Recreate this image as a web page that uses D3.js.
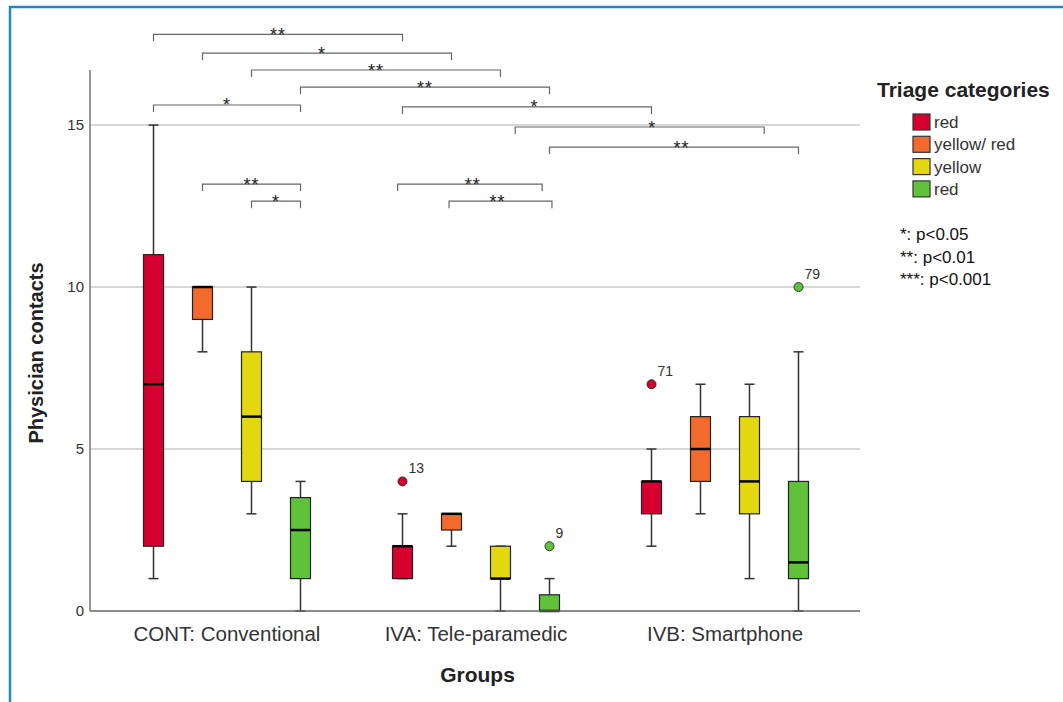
<!DOCTYPE html>
<html>
<head>
<meta charset="utf-8">
<script src="https://cdn.jsdelivr.net/npm/d3@7"></script>
<style>
  body { margin: 0; background: #fff; }
  text { font-family: "Liberation Sans", Arial, sans-serif; }
</style>
</head>
<body>
<div class="chart"></div>
<script>
var svgWidth = 1063;
var svgHeight = 702;

// groups on the x axis and triage categories inside each group
var groups = ["CONT: Conventional", "IVA: Tele-paramedic", "IVB: Smartphone"];
var triage = ["red", "yellow/ red", "yellow", "red"];
var triageColors = ["#d6002f", "#f26a2c", "#e3d80f", "#60c23b"];

// box plot statistics, one row per group, one column per triage category
var whiskerLow = [[1, 8, 3, 0], [1, 2, 0, 0], [2, 3, 1, 0]];
var quart1 = [[2, 9, 4, 1], [1, 2.5, 1, 0], [3, 4, 3, 1]];
var medians = [[7, 10, 6, 2.5], [2, 3, 1, 0], [4, 5, 4, 1.5]];
var quart3 = [[11, 10, 8, 3.5], [2, 3, 2, 0.5], [4, 6, 6, 4]];
var whiskerHigh = [[15, 10, 10, 4], [3, 3, 2, 1], [5, 7, 7, 8]];

// outliers: group index, category index, value, case id
var outlierGroup = [1, 1, 2, 2];
var outlierCat = [0, 3, 0, 3];
var outlierValue = [4, 2, 7, 10];
var outlierId = ["13", "9", "71", "79"];

var yTicks = [0, 5, 10, 15];

// significance brackets: [group1, cat1, group2, cat2, height (y units), stars, label position]
var brackets = [
  [0, 0, 1, 0, 17.8, "**", 0.5],
  [0, 1, 1, 1, 17.22, "*", 0.48],
  [0, 2, 1, 2, 16.7, "**", 0.5],
  [0, 3, 1, 3, 16.17, "**", 0.5],
  [0, 0, 0, 3, 15.62, "*", 0.5],
  [1, 0, 2, 0, 15.56, "*", 0.53],
  [1, 2.3, 2, 2.3, 14.94, "*", 0.55],
  [1, 3, 2, 3, 14.32, "**", 0.53],
  [0, 1, 0, 3, 13.18, "**", 0.5],
  [0, 2, 0, 3, 12.65, "*", 0.5],
  [1, -0.1, 1, 2.85, 13.18, "**", 0.52],
  [1, 0.95, 1, 3.05, 12.65, "**", 0.47]
];

var pNotes = ["*: p<0.05", "**: p<0.01", "***: p<0.001"];

var plotLeft = 90, plotRight = 860, plotTop = 70, plotBottom = 611;

var svg = d3.select(".chart")
  .append("svg")
  .attr("width", svgWidth)
  .attr("height", svgHeight);

// blue frame round the figure
svg.append("path")
  .attr("d", "M10,702 L10,7 L1063,7")
  .attr("fill", "none")
  .attr("stroke", "#1f88c9")
  .attr("stroke-width", 2.5);

var y = d3.scaleLinear()
  .domain([0, 16.7])
  .range([plotBottom, plotTop]);

var xGroup = d3.scaleBand()
  .domain(groups)
  .range([102.5, 849.5]);

var xCat = d3.scaleLinear()
  .domain([0, 3])
  .range([-73.5, 73.5]);

function xPos(g, c) {
  return xGroup(groups[g]) + xGroup.bandwidth() / 2 + xCat(c);
}

// grid lines
svg.append("g")
  .selectAll("line")
  .data(yTicks.filter(d => d > 0))
  .enter()
  .append("line")
  .attr("x1", plotLeft)
  .attr("x2", plotRight)
  .attr("y1", d => y(d))
  .attr("y2", d => y(d))
  .attr("stroke", "#cacaca")
  .attr("stroke-width", 1.5);

// y axis
var leftAxis = d3.axisLeft(y).tickValues(yTicks).tickSize(0).tickPadding(6);
var yAxis = svg.append("g")
  .attr("transform", `translate(${plotLeft}, 0)`)
  .call(leftAxis);
yAxis.select(".domain").remove();
yAxis.selectAll("text")
  .attr("font-family", "Liberation Sans, Arial, sans-serif")
  .attr("font-size", 15)
  .attr("fill", "#333");

svg.append("line")
  .attr("x1", plotLeft).attr("x2", plotLeft)
  .attr("y1", plotTop).attr("y2", plotBottom)
  .attr("stroke", "#777")
  .attr("stroke-width", 1.5);

// x axis
var bottomAxis = d3.axisBottom(xGroup).tickSize(0).tickPadding(15);
var xAxis = svg.append("g")
  .attr("transform", `translate(0, ${plotBottom})`)
  .call(bottomAxis);
xAxis.select(".domain").remove();
xAxis.selectAll("text")
  .attr("font-family", "Liberation Sans, Arial, sans-serif")
  .attr("font-size", 20.5)
  .attr("fill", "#333");

// box plots
var boxes = [];
groups.forEach(function(g, gi) {
  triage.forEach(function(t, ci) {
    boxes.push({
      g: gi, c: ci,
      lo: whiskerLow[gi][ci], q1: quart1[gi][ci], med: medians[gi][ci],
      q3: quart3[gi][ci], hi: whiskerHigh[gi][ci]
    });
  });
});

var boxW = 20, capW = 10;
var boxGroup = svg.append("g");

var bx = boxGroup.selectAll("g")
  .data(boxes)
  .enter()
  .append("g");

// whiskers
bx.append("line")
  .attr("x1", d => xPos(d.g, d.c)).attr("x2", d => xPos(d.g, d.c))
  .attr("y1", d => y(d.lo)).attr("y2", d => y(d.hi))
  .attr("stroke", "#333").attr("stroke-width", 1.5);
bx.append("line")
  .attr("x1", d => xPos(d.g, d.c) - capW / 2).attr("x2", d => xPos(d.g, d.c) + capW / 2)
  .attr("y1", d => y(d.lo)).attr("y2", d => y(d.lo))
  .attr("stroke", "#333").attr("stroke-width", 1.5);
bx.append("line")
  .attr("x1", d => xPos(d.g, d.c) - capW / 2).attr("x2", d => xPos(d.g, d.c) + capW / 2)
  .attr("y1", d => y(d.hi)).attr("y2", d => y(d.hi))
  .attr("stroke", "#333").attr("stroke-width", 1.5);

bx.append("rect")
  .attr("x", d => xPos(d.g, d.c) - boxW / 2)
  .attr("width", boxW)
  .attr("y", d => y(d.q3))
  .attr("height", d => Math.max(y(d.q1) - y(d.q3), 0))
  .attr("fill", d => triageColors[d.c])
  .attr("stroke", "#222")
  .attr("stroke-width", 1.2);

bx.append("line")
  .attr("x1", d => xPos(d.g, d.c) - boxW / 2).attr("x2", d => xPos(d.g, d.c) + boxW / 2)
  .attr("y1", d => y(d.med)).attr("y2", d => y(d.med))
  .attr("stroke", "#000").attr("stroke-width", 2.5);

// x axis line over the box bottoms
svg.append("line")
  .attr("x1", plotLeft).attr("x2", plotRight)
  .attr("y1", plotBottom).attr("y2", plotBottom)
  .attr("stroke", "#666")
  .attr("stroke-width", 1.5);

// outliers
var outliers = outlierValue.map(function(v, i) {
  return { g: outlierGroup[i], c: outlierCat[i], v: v, id: outlierId[i] };
});

svg.append("g").selectAll("circle")
  .data(outliers)
  .enter()
  .append("circle")
  .attr("cx", d => xPos(d.g, d.c))
  .attr("cy", d => y(d.v))
  .attr("r", 4.5)
  .attr("fill", d => triageColors[d.c])
  .attr("stroke", "#333")
  .attr("stroke-width", 1);

svg.append("g").selectAll("text")
  .data(outliers)
  .enter()
  .append("text")
  .attr("x", d => xPos(d.g, d.c) + 6)
  .attr("y", d => y(d.v) - 8)
  .attr("font-size", 14)
  .attr("fill", "#333")
  .text(d => d.id);

// significance brackets
var tick = 7;
var br = svg.append("g").selectAll("g")
  .data(brackets)
  .enter()
  .append("g");

br.append("path")
  .attr("d", function(d) {
    var x1 = xPos(d[0], d[1]), x2 = xPos(d[2], d[3]), by = y(d[4]);
    return `M${x1},${by + tick} L${x1},${by} L${x2},${by} L${x2},${by + tick}`;
  })
  .attr("fill", "none")
  .attr("stroke", "#666")
  .attr("stroke-width", 1.2);

br.append("text")
  .attr("x", function(d) {
    var x1 = xPos(d[0], d[1]), x2 = xPos(d[2], d[3]);
    return x1 + (x2 - x1) * d[6];
  })
  .attr("y", d => y(d[4]) + 6.5)
  .attr("text-anchor", "middle")
  .attr("font-size", 18)
  .attr("letter-spacing", 1)
  .attr("fill", "#222")
  .text(d => d[5]);

// axis titles
svg.append("text")
  .attr("x", 477.5)
  .attr("y", 682)
  .attr("text-anchor", "middle")
  .attr("font-size", 21)
  .attr("font-weight", "bold")
  .attr("fill", "#222")
  .text("Groups");

svg.append("text")
  .attr("transform", "translate(43, 353) rotate(-90)")
  .attr("text-anchor", "middle")
  .attr("font-size", 20)
  .attr("font-weight", "bold")
  .attr("fill", "#222")
  .text("Physician contacts");

// legend
var legend = svg.append("g");
legend.append("text")
  .attr("x", 877)
  .attr("y", 97)
  .attr("font-size", 21)
  .attr("font-weight", "bold")
  .attr("fill", "#222")
  .text("Triage categories");

var item = legend.selectAll(".item")
  .data(triage)
  .enter()
  .append("g")
  .attr("class", "item")
  .attr("transform", (d, i) => `translate(913, ${122 + i * 22.3})`);

item.append("rect")
  .attr("x", 0).attr("y", -8)
  .attr("width", 17).attr("height", 16)
  .attr("fill", (d, i) => triageColors[i])
  .attr("stroke", "#333")
  .attr("stroke-width", 1.2);

item.append("text")
  .attr("x", 21)
  .attr("y", 6)
  .attr("font-size", 17)
  .attr("fill", "#333")
  .text(d => d);

legend.selectAll(".note")
  .data(pNotes)
  .enter()
  .append("text")
  .attr("class", "note")
  .attr("x", 900)
  .attr("y", (d, i) => 240 + i * 22.5)
  .attr("font-family", "Lato, sans-serif")
  .attr("font-size", 17)
  .attr("fill", "#111")
  .text(d => d);
</script>
</body>
</html>
